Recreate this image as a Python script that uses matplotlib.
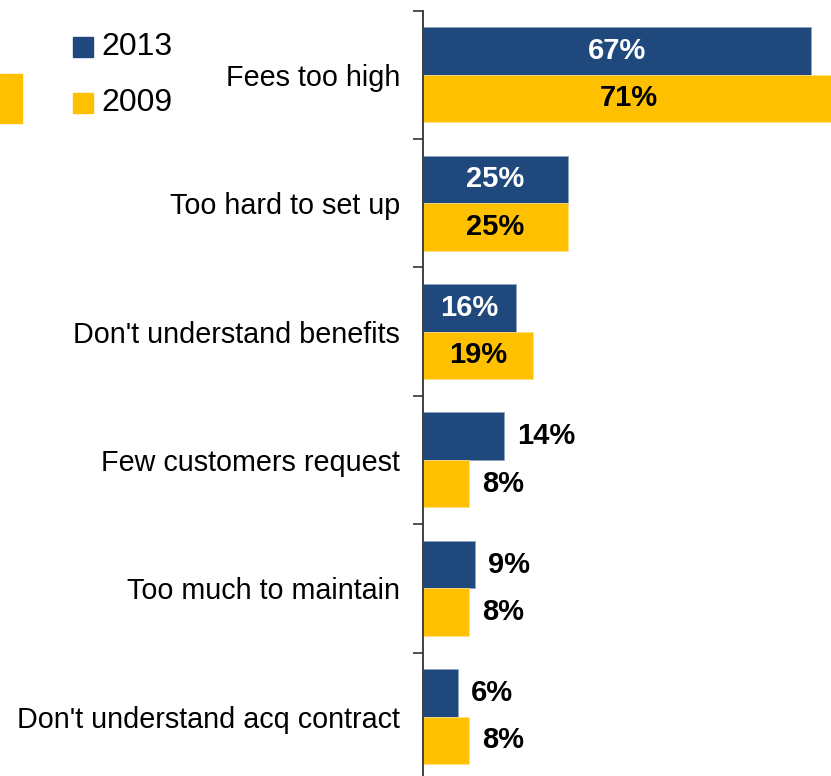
import matplotlib
matplotlib.use("Agg")
import matplotlib.pyplot as plt
from matplotlib.patches import Rectangle
import numpy as np

plt.rcParams['font.family'] = ['Liberation Sans', 'DejaVu Sans']

# reasons merchants give, survey share per year
reasons = ["Fees too high", "Too hard to set up", "Don't understand benefits",
           "Few customers request", "Too much to maintain",
           "Don't understand acq contract"]
pct_2013 = [67, 25, 16, 14, 9, 6]
pct_2009 = [71, 25, 19, 8, 8, 8]
years = ["2013", "2009"]

NAVY = "#1F497D"
GOLD = "#FFC000"

W, H = 831, 776
fig = plt.figure(figsize=(W / 100, H / 100), dpi=100)

# axes runs from the spine to the right edge, bottom row runs past the frame
top = 10.5
row = 128.4
left = 423
ax = fig.add_axes([left / W, 1 - (top + row * 6) / H, (W - left) / W, row * 6 / H])

y = np.arange(len(reasons))
bh = 0.37
ax.barh(y - bh / 2, pct_2013, height=bh, color=NAVY, edgecolor="#8FA3BD", linewidth=0.5)
ax.barh(y + bh / 2, pct_2009, height=bh, color=GOLD, edgecolor="#FFE08A", linewidth=0.5)

ax.set_xlim(0, (W - left) / 5.79)
ax.set_ylim(len(reasons) - 0.5, -0.5)

for vals, off, inner in [(pct_2013, -bh / 2, "white"), (pct_2009, bh / 2, "black")]:
    for i, v in enumerate(vals):
        lbl = f"{v}%"
        if v > 15:
            ax.text(v / 2, i + off, lbl, ha="center", va="center", color=inner,
                    fontsize=21, fontweight="bold", clip_on=False)
        else:
            ax.annotate(lbl, (v, i + off), xytext=(9.5, 0), textcoords="offset points",
                        ha="left", va="center", color="black",
                        fontsize=21, fontweight="bold")

# boundary ticks on the spine, names at the row centres
ax.set_yticks(np.arange(len(reasons) + 1) - 0.5)
ax.set_yticklabels([])
ax.tick_params(axis="y", which="major", length=7.5, width=1.2, color="#333333", direction="out")
ax.set_yticks(y, minor=True)
ax.set_yticklabels(reasons, minor=True, fontsize=20.7)
ax.tick_params(axis="y", which="minor", length=0, pad=16.5)
ax.set_xticks([])

for s in ["top", "right", "bottom"]:
    ax.spines[s].set_visible(False)
ax.spines["left"].set_color("#333333")
ax.spines["left"].set_linewidth(1.3)

# legend drawn by hand in pixel positions
def fx(px):
    return px / W

def fy(px):
    return 1 - px / H

for name, col, y0 in [(years[0], NAVY, 37), (years[1], GOLD, 93)]:
    fig.patches.append(Rectangle((fx(73), fy(y0 + 20)), 20 / W, 20 / H,
                                 transform=fig.transFigure, color=col))
    fig.text(fx(101), fy(y0 + 10), name, fontsize=23, ha="left", va="center")

# edge of a neighbouring bar at the far left
fig.patches.append(Rectangle((0, fy(123)), 22 / W, 49 / H,
                             transform=fig.transFigure, color=GOLD))

fig.savefig("out.png", dpi=100)
